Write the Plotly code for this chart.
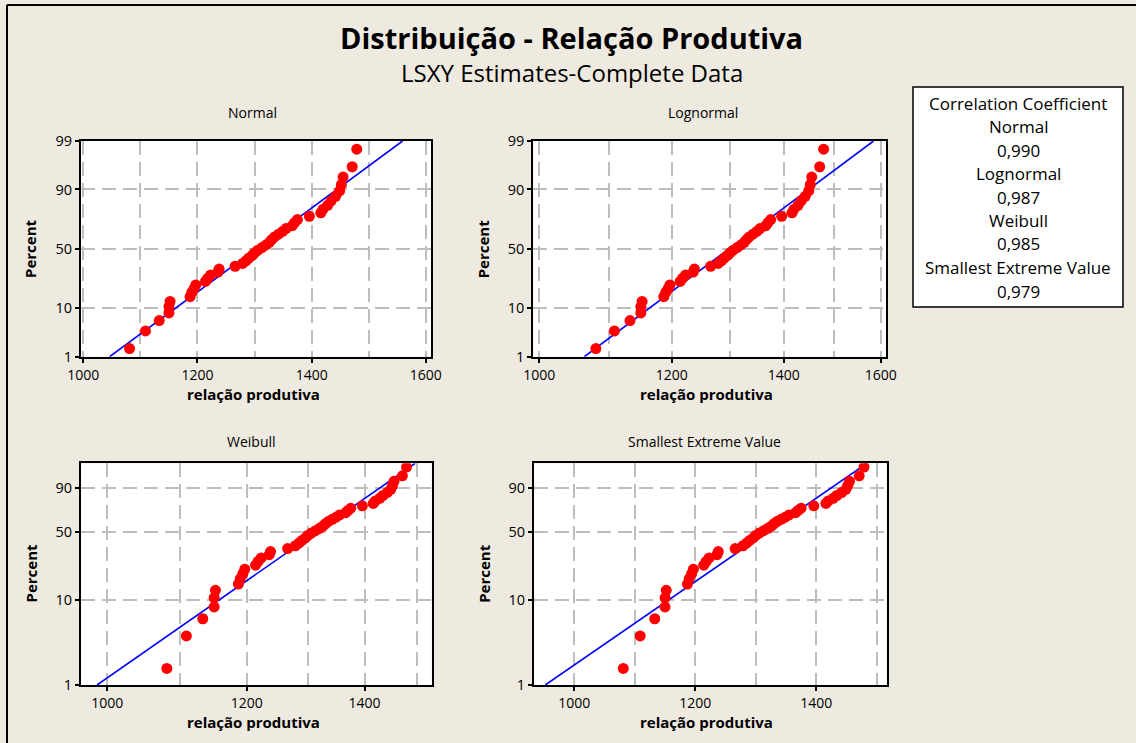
import numpy as np
import plotly.graph_objects as go
from statistics import NormalDist

W, H = 1136, 743

# ---------------- data ----------------
values = [1081, 1109, 1133, 1150, 1150, 1152, 1187, 1190, 1194, 1197,
          1214, 1218, 1223, 1236, 1238, 1266, 1279, 1285, 1290, 1296,
          1300, 1306, 1313, 1320, 1326, 1330, 1335, 1342, 1349, 1355,
          1366, 1370, 1375, 1396, 1416, 1420, 1428, 1434, 1442, 1449,
          1452, 1455, 1471, 1479]
panel_names = ["Normal", "Lognormal", "Weibull", "Smallest Extreme Value"]
corr_values = ["0,990", "0,987", "0,985", "0,979"]
ytick_pct_top = [1, 10, 50, 90, 99]
ytick_pct_bottom = [1, 10, 50, 90]
xtick_top = [1000, 1200, 1400, 1600]
xminor_top = [1100, 1300, 1500]
xtick_bottom = [1000, 1200, 1400]
xminor_bottom = [1100, 1300, 1500]

# ---------------- helpers ----------------
nd = NormalDist()
def zq(p):
    return nd.inv_cdf(p)
def gq(p):
    return float(np.log(-np.log(1.0 - p)))

x = np.sort(np.array(values, dtype=float))
n = len(x)
ranks = np.arange(1, n + 1)
pct = (ranks - 0.3) / (n + 0.4)   # median ranks (Benard)

def px2paper_x(px):
    return px / W
def px2paper_y(py):
    return 1 - py / H

panels = [
    dict(name="Normal", q=zq, xlog=False, xr=[996, 1609],
         box=(81, 431, 141, 356.7), yt=ytick_pct_top, xt=xtick_top, xm=xminor_top,
         title_xy=(252, 112.7), xlab_xy=(253, 394), plab_xy=(30, 249)),
    dict(name="Lognormal", q=zq, xlog=True, xr=[991.8, 1611.6],
         box=(533.3, 886, 141, 356.7), yt=ytick_pct_top, xt=xtick_top, xm=xminor_top,
         title_xy=(703, 112.7), xlab_xy=(706.7, 394), plab_xy=(483.3, 249)),
    dict(name="Weibull", q=gq, xlog=True, xr=[966.2, 1528.5],
         box=(81, 431.7, 463.3, 685), yt=ytick_pct_bottom, xt=xtick_bottom, xm=xminor_bottom,
         title_xy=(251.7, 441.7), xlab_xy=(253, 721.7), plab_xy=(30, 573.5)),
    dict(name="Smallest Extreme Value", q=gq, xlog=False, xr=[933.4, 1516.5],
         box=(534, 886.7, 463.3, 685), yt=ytick_pct_bottom, xt=xtick_bottom, xm=xminor_bottom,
         title_xy=(704, 441.7), xlab_xy=(706.7, 721.7), plab_xy=(483.3, 573.5)),
]

FONT = "Open Sans"
GRID = "#BEBEBE"
DASH = "14px,7px"

fig = go.Figure()
layout = dict(
    template="none",
    width=W, height=H,
    margin=dict(l=0, r=0, t=0, b=0, pad=0, autoexpand=False),
    paper_bgcolor="#EEEAE0",
    plot_bgcolor="white",
    showlegend=False,
    font=dict(family=FONT, color="black"),
)
annotations = []
shapes = []

for k, P in enumerate(panels):
    idx = "" if k == 0 else str(k + 1)
    q = P["q"]
    yq = np.array([q(p) for p in pct])
    qline = np.array([q(0.01), q(0.99)])
    if P["xlog"]:
        b, a = np.polyfit(yq, np.log(x), 1)
        xline = np.exp(a + b * qline)
    else:
        b, a = np.polyfit(yq, x, 1)
        xline = a + b * qline

    fig.add_trace(go.Scatter(x=xline, y=qline, mode="lines",
                             line=dict(color="#0000FF", width=1.6),
                             xaxis="x" + idx, yaxis="y" + idx, hoverinfo="skip"))
    fig.add_trace(go.Scatter(x=x, y=yq, mode="markers",
                             marker=dict(color="#FF0000", size=11, line=dict(width=0)),
                             xaxis="x" + idx, yaxis="y" + idx))

    x0, x1, y0, y1 = P["box"]
    xr = P["xr"]
    if P["xlog"]:
        xr = [float(np.log10(xr[0])), float(np.log10(xr[1]))]
    ylo, yhi = q(0.01), q(0.99)

    layout["xaxis" + idx] = dict(
        domain=[px2paper_x(x0), px2paper_x(x1)],
        anchor="y" + idx, automargin=False,
        type="log" if P["xlog"] else "linear",
        range=xr,
        tickmode="array", tickvals=P["xt"], ticktext=[str(v) for v in P["xt"]],
        ticks="outside", ticklen=4, tickwidth=1.5, tickcolor="black",
        tickfont=dict(family=FONT, size=14, color="black"),
        showgrid=True, gridcolor=GRID, gridwidth=2, griddash=DASH,
        minor=dict(tickmode="array", tickvals=P["xm"], showgrid=True,
                   gridcolor=GRID, gridwidth=2, griddash=DASH, ticks=""),
        showline=True, linecolor="black", linewidth=2, mirror=True,
        zeroline=False, fixedrange=True,
    )
    layout["yaxis" + idx] = dict(
        domain=[px2paper_y(y1), px2paper_y(y0)],
        anchor="x" + idx, automargin=False,
        range=[ylo, yhi],
        tickmode="array", tickvals=[q(p / 100) for p in P["yt"]],
        ticktext=[str(p) for p in P["yt"]],
        ticks="outside", ticklen=4, tickwidth=1.5, tickcolor="black",
        tickfont=dict(family=FONT, size=14.5, color="black"),
        showgrid=True, gridcolor=GRID, gridwidth=2, griddash=DASH,
        showline=True, linecolor="black", linewidth=2, mirror=True,
        zeroline=False, fixedrange=True,
    )

    tx, ty = P["title_xy"]
    annotations.append(dict(text=P["name"], x=px2paper_x(tx), y=px2paper_y(ty),
                            xref="paper", yref="paper", showarrow=False,
                            xanchor="center", yanchor="middle",
                            font=dict(family=FONT, size=14, color="black")))
    lx, ly = P["xlab_xy"]
    annotations.append(dict(text="<b>relação produtiva</b>", x=px2paper_x(lx), y=px2paper_y(ly),
                            xref="paper", yref="paper", showarrow=False,
                            xanchor="center", yanchor="middle",
                            font=dict(family=FONT, size=15, color="black")))
    plx, ply = P["plab_xy"]
    annotations.append(dict(text="<b>Percent</b>", x=px2paper_x(plx), y=px2paper_y(ply),
                            xref="paper", yref="paper", showarrow=False, textangle=-90,
                            xanchor="center", yanchor="middle",
                            font=dict(family=FONT, size=15, color="black")))

# main titles
annotations.append(dict(text="<b>Distribuição - Relação Produtiva</b>",
                        x=px2paper_x(571), y=px2paper_y(38), xref="paper", yref="paper",
                        showarrow=False, xanchor="center", yanchor="middle",
                        font=dict(family=FONT, size=29, color="black")))
annotations.append(dict(text="LSXY Estimates-Complete Data",
                        x=px2paper_x(572), y=px2paper_y(73), xref="paper", yref="paper",
                        showarrow=False, xanchor="center", yanchor="middle",
                        font=dict(family=FONT, size=24, color="black")))

# correlation coefficient box
bx0, bx1, by0, by1 = 913, 1123, 87, 307
shapes.append(dict(type="rect", xref="paper", yref="paper",
                   x0=px2paper_x(bx0), x1=px2paper_x(bx1),
                   y0=px2paper_y(by1), y1=px2paper_y(by0),
                   line=dict(color="black", width=1.5), fillcolor="white", layer="below"))
rows = ["Correlation Coefficient"]
for nm, cv in zip(panel_names, corr_values):
    rows += [nm, cv]
row_y0, row_dy = 103, 23.5
for i, t in enumerate(rows):
    annotations.append(dict(text=t, x=px2paper_x((bx0 + bx1) / 2), y=px2paper_y(row_y0 + i * row_dy),
                            xref="paper", yref="paper", showarrow=False,
                            xanchor="center", yanchor="middle",
                            font=dict(family=FONT, size=17, color="black")))

# outer frame lines (left and top)
shapes.append(dict(type="line", xref="paper", yref="paper",
                   x0=px2paper_x(7), x1=px2paper_x(7), y0=0, y1=px2paper_y(5),
                   line=dict(color="black", width=2)))
shapes.append(dict(type="line", xref="paper", yref="paper",
                   x0=px2paper_x(7), x1=1, y0=px2paper_y(5), y1=px2paper_y(5),
                   line=dict(color="black", width=2)))

layout["annotations"] = annotations
layout["shapes"] = shapes
fig.update_layout(**layout)
fig.write_html("out.html")
